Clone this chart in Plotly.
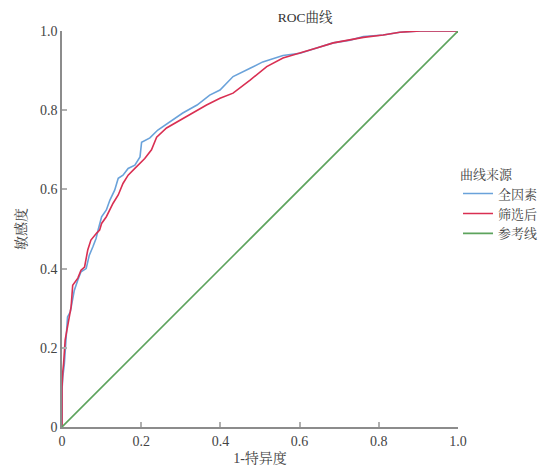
import plotly.graph_objects as go

# ---- data ----
all_fpr = [0.0, 0.0, 0.002, 0.006, 0.010, 0.014, 0.021, 0.025, 0.031, 0.040, 0.048, 0.061,
           0.069, 0.078, 0.086, 0.091, 0.100, 0.112, 0.121, 0.133, 0.142, 0.154, 0.167,
           0.184, 0.197, 0.201, 0.222, 0.242, 0.272, 0.305, 0.341, 0.373, 0.399, 0.432,
           0.475, 0.507, 0.558, 0.601, 0.643, 0.669, 0.685, 0.728, 0.761, 0.811, 0.853,
           0.905, 1.0]
all_tpr = [0.0, 0.093, 0.126, 0.160, 0.219, 0.278, 0.291, 0.316, 0.345, 0.371, 0.392, 0.400,
           0.434, 0.455, 0.476, 0.497, 0.531, 0.548, 0.573, 0.598, 0.628, 0.636, 0.653,
           0.661, 0.682, 0.719, 0.730, 0.750, 0.770, 0.793, 0.813, 0.838, 0.851, 0.885,
           0.906, 0.922, 0.938, 0.944, 0.957, 0.965, 0.970, 0.977, 0.986, 0.990, 0.997,
           1.0, 1.0]

sel_fpr = [0.0, 0.0, 0.002, 0.004, 0.008, 0.013, 0.019, 0.023, 0.027, 0.040, 0.048, 0.057,
           0.065, 0.070, 0.073, 0.087, 0.095, 0.100, 0.112, 0.129, 0.142, 0.154, 0.167,
           0.184, 0.197, 0.209, 0.226, 0.239, 0.264, 0.298, 0.331, 0.365, 0.399, 0.432,
           0.475, 0.517, 0.558, 0.601, 0.643, 0.685, 0.728, 0.761, 0.811, 0.853, 0.905, 1.0]
sel_tpr = [0.0, 0.100, 0.140, 0.160, 0.220, 0.245, 0.278, 0.303, 0.358, 0.376, 0.396, 0.404,
           0.447, 0.463, 0.472, 0.489, 0.497, 0.514, 0.531, 0.565, 0.586, 0.615, 0.636,
           0.653, 0.666, 0.678, 0.700, 0.732, 0.755, 0.775, 0.793, 0.813, 0.830, 0.843,
           0.876, 0.910, 0.932, 0.944, 0.957, 0.970, 0.977, 0.984, 0.990, 0.997, 1.0, 1.0]

ref_x = [0.0, 1.0]
ref_y = [0.0, 1.0]

series_names = ["全因素", "筛选后", "参考线"]
tick_vals = [0, 0.2, 0.4, 0.6, 0.8, 1.0]
tick_text = ["0", "0.2", "0.4", "0.6", "0.8", "1.0"]

FONT = "Liberation Serif, Noto Serif CJK SC, Noto Sans CJK SC, serif"

fig = go.Figure()
fig.add_trace(go.Scatter(x=all_fpr, y=all_tpr, mode="lines", name=series_names[0],
                         line=dict(color="#6aa2da", width=1.6)))
fig.add_trace(go.Scatter(x=sel_fpr, y=sel_tpr, mode="lines", name=series_names[1],
                         line=dict(color="#d92f52", width=1.6)))
fig.add_trace(go.Scatter(x=ref_x, y=ref_y, mode="lines", name=series_names[2],
                         line=dict(color="#5da35d", width=1.6)))

axis_common = dict(
    range=[0, 1], tickvals=tick_vals, ticktext=tick_text, automargin=False,
    showgrid=False, zeroline=False, showline=True, linecolor="#8c8c8c", linewidth=1.5,
    ticks="inside", ticklen=5, tickcolor="#b0b0b0", tickwidth=1.5,
    tickfont=dict(family=FONT, size=14, color="#444444"),
    fixedrange=True,
)

fig.update_layout(
    width=531, height=458,
    margin=dict(l=54, r=81, t=23, b=39, autoexpand=False),
    paper_bgcolor="white", plot_bgcolor="white",
    font=dict(family=FONT, color="#333333"),
    title=dict(text="ROC曲线", x=0.614, xref="paper", xanchor="center",
               y=0.980, yref="container", yanchor="middle",
               font=dict(family=FONT, size=13.5, color="#333333")),
    xaxis=dict(**axis_common,
               title=dict(text="1-特异度", standoff=15,
                          font=dict(family=FONT, size=14, color="#444444"))),
    yaxis=dict(**axis_common,
               title=dict(text="敏感度", standoff=10,
                          font=dict(family=FONT, size=14, color="#444444"))),
    legend=dict(
        title=dict(text="曲线来源", font=dict(family=FONT, size=13, color="#444444")),
        x=1.0, xanchor="left", y=0.67, yanchor="top",
        font=dict(family=FONT, size=13, color="#444444"),
        bgcolor="rgba(0,0,0,0)", tracegroupgap=0, itemwidth=30,
    ),
)

fig.write_html("out.html")
